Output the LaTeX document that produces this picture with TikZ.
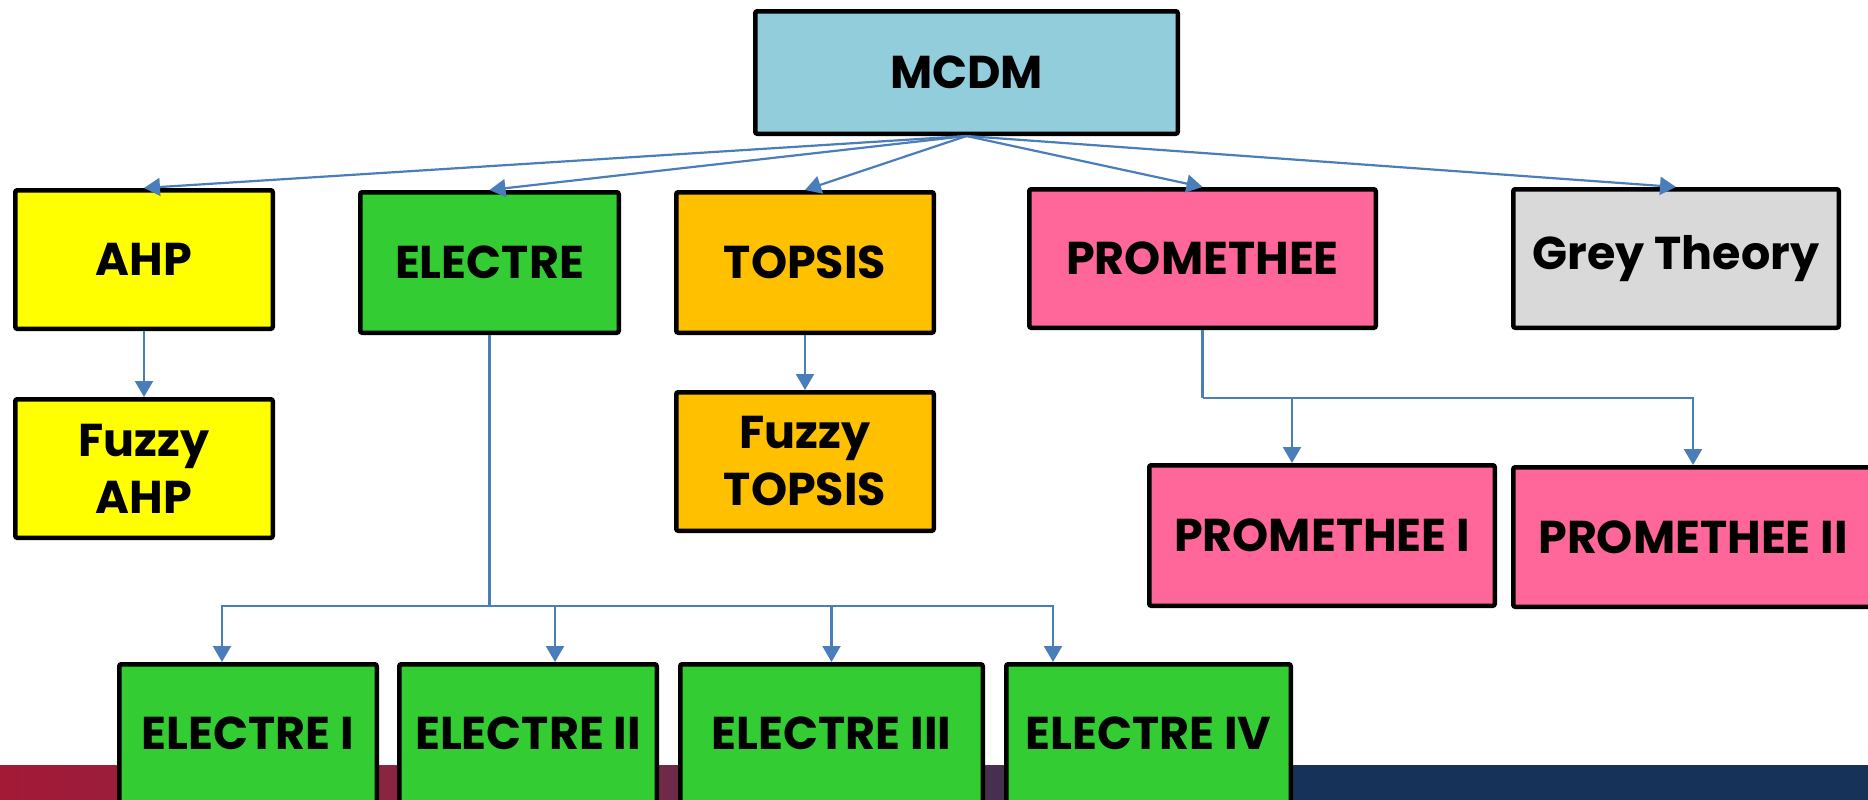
\documentclass[tikz,border=0pt]{standalone}
\usepackage{fontspec}
\setmainfont{Poppins}
\usetikzlibrary{arrows.meta}
\definecolor{cblue}{HTML}{92CDDC}
\definecolor{cyel}{HTML}{FFFF00}
\definecolor{cgreen}{HTML}{33CC33}
\definecolor{corange}{HTML}{FFC000}
\definecolor{cpink}{HTML}{FF6699}
\definecolor{cgrey}{HTML}{D9D9D9}
\definecolor{cline}{HTML}{4A7EBB}
\definecolor{barA}{HTML}{A31A37}
\definecolor{barB}{HTML}{8A2440}
\definecolor{barC}{HTML}{6E2A48}
\definecolor{barD}{HTML}{47304F}
\definecolor{barE}{HTML}{163259}
\tikzset{
  box/.style={draw=black, line width=2.25pt, rounded corners=1pt, align=center,
    font=\fontsize{23}{28.5}\selectfont\bfseries, inner sep=0pt},
  link/.style={draw=cline, line width=1.1pt},
  arr/.style={link, -{Triangle[length=8pt,width=9pt]}},
}
\begin{document}
\begin{tikzpicture}[x=0.5pt,y=-0.5pt]
\useasboundingbox (0,0) rectangle (1868,799);
\clip (0,0) rectangle (1868,799);
% bottom bar
\shade[left color=barA, right color=barB] (0,765) rectangle (391,800);
\shade[left color=barB, right color=barC] (390,765) rectangle (669,800);
\shade[left color=barC, right color=barD] (668,765) rectangle (996,800);
\shade[left color=barD, right color=barE] (995,765) rectangle (1294,800);
\fill[barE] (1293,765) rectangle (1868,800);
% boxes
\node[box, fill=cblue, minimum width=211.25pt, minimum height=61.25pt] (mcdm) at (966.5,72.5) {MCDM};
\node[box, fill=cyel, minimum width=128.75pt, minimum height=69.25pt] (ahp) at (144,259.5) {AHP};
\node[box, fill=cgreen, minimum width=129.25pt, minimum height=70.25pt] (electre) at (489.5,262.5) {ELECTRE};
\node[box, fill=corange, minimum width=128.75pt, minimum height=70.25pt] (topsis) at (805,262.5) {TOPSIS};
\node[box, fill=cpink, minimum width=173.25pt, minimum height=69.25pt] (prom) at (1202.5,258.5) {PROMETHEE};
\node[box, fill=cgrey, minimum width=162.75pt, minimum height=69.25pt] (grey) at (1676,258.5) {Grey Theory};
\node[box, fill=cyel, minimum width=128.75pt, minimum height=69.25pt] (fahp) at (144,468.5) {Fuzzy\\AHP};
\node[box, fill=corange, minimum width=128.75pt, minimum height=69.25pt] (ftopsis) at (805,461.5) {Fuzzy\\TOPSIS};
\node[box, fill=cpink, minimum width=172.75pt, minimum height=70.25pt] (prom1) at (1322,535.5) {PROMETHEE I};
\node[box, fill=cpink, minimum width=179.75pt, minimum height=69.75pt] (prom2) at (1693,537) {PROMETHEE II};
\node[box, fill=cgreen, minimum width=128.75pt, minimum height=69.25pt] (e1) at (248,733.5) {ELECTRE I};
\node[box, fill=cgreen, minimum width=128.75pt, minimum height=69.25pt] (e2) at (528,733.5) {ELECTRE II};
\node[box, fill=cgreen, minimum width=151.25pt, minimum height=69.25pt] (e3) at (831.5,733.5) {ELECTRE III};
\node[box, fill=cgreen, minimum width=142.25pt, minimum height=69.25pt] (e4) at (1148.5,733.5) {ELECTRE IV};
% top connectors
\foreach \t in {ahp,electre,topsis,prom,grey}
  \draw[arr] (mcdm.south) -- (\t.north);
\draw[arr] (ahp.south) -- (fahp.north);
\draw[arr] (topsis.south) -- (ftopsis.north);
% electre tree
\coordinate (ebus) at (489.5,606);
\coordinate (t1) at (222,0);
\coordinate (t2) at (555,0);
\coordinate (t4) at (1053,0);
\draw[link] (electre.south) -- (ebus);
\draw[arr] (ebus) -| (t1 |- e1.north);
\draw[arr] (ebus) -| (t2 |- e2.north);
\draw[arr] (ebus) -| (e3.north);
\draw[arr] (ebus) -| (t4 |- e4.north);
% promethee tree
\coordinate (pbus) at (1202.5,398);
\coordinate (tp1) at (1292,0);
\draw[link] (prom.south) -- (pbus);
\draw[arr] (pbus) -| (tp1 |- prom1.north);
\draw[arr] (pbus) -| (prom2.north);
\end{tikzpicture}
\end{document}
